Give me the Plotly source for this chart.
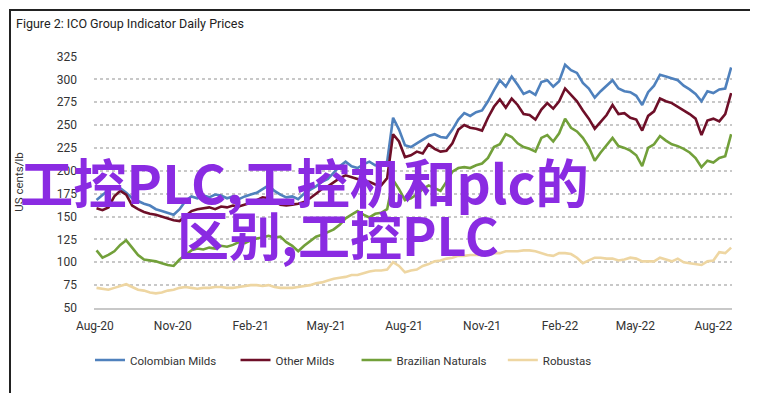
import pandas as pd
import plotly.graph_objects as go

# Weekly dates (Mondays) from Aug 2020 to Aug 2022
dates = pd.date_range("2020-08-03", "2022-08-22", freq="7D")

colombian = [168, 174, 179, 182, 181, 176, 170, 167, 164, 162, 158, 156, 154, 152, 158, 167, 172, 170, 173, 171,
             174, 173, 170, 172, 169, 172, 174, 176, 180, 184, 178, 174, 171, 172, 169, 175, 179, 183, 188, 191,
             198, 205, 210, 205, 203, 207, 210, 206, 208, 210, 258, 245, 228, 226, 230, 234, 238, 240, 237, 236,
             245, 256, 263, 260, 264, 266, 276, 288, 299, 292, 303, 294, 284, 287, 283, 297, 299, 292, 298, 316,
             310, 307, 296, 290, 280, 287, 293, 299, 290, 287, 286, 282, 272, 286, 293, 305, 303, 301, 299, 293,
             289, 284, 276, 287, 285, 289, 290, 313]
other_milds = [159, 157, 160, 172, 178, 174, 162, 158, 155, 153, 152, 150, 148, 146, 145, 150, 156, 158, 159, 160,
               158, 161, 160, 162, 161, 163, 165, 168, 171, 170, 167, 163, 162, 163, 164, 166, 170, 175, 180, 183,
               188, 192, 195, 193, 191, 189, 188, 185, 184, 192, 240, 232, 215, 217, 221, 219, 229, 224, 221, 222,
               230, 245, 250, 247, 246, 244, 258, 270, 278, 269, 279, 272, 262, 261, 256, 267, 274, 268, 276, 290,
               283, 276, 266, 257, 246, 254, 261, 272, 262, 263, 258, 256, 244, 260, 265, 279, 276, 274, 270, 266,
               262, 257, 239, 255, 257, 254, 262, 285]
brazilian = [113, 105, 108, 112, 119, 124, 116, 108, 103, 102, 101, 99, 97, 96, 103, 108, 113, 115, 114, 116,
             115, 118, 117, 119, 122, 121, 124, 126, 127, 129, 127, 128, 122, 118, 112, 118, 123, 128, 130, 133,
             136, 141, 148, 152, 156, 152, 149, 153, 154, 158, 190, 180, 168, 170, 174, 180, 184, 181, 178, 188,
             199, 203, 204, 203, 206, 208, 214, 226, 229, 240, 237, 230, 226, 224, 221, 236, 239, 232, 241, 257,
             247, 243, 236, 226, 211, 220, 228, 236, 227, 225, 222, 217, 205, 225, 229, 238, 233, 229, 227, 224,
             220, 214, 204, 211, 209, 214, 216, 240]
robustas = [72, 71, 70, 72, 74, 76, 73, 70, 69, 67, 66, 67, 69, 70, 72, 73, 72, 71, 72, 72,
            73, 73, 72, 72, 73, 74, 75, 75, 74, 75, 73, 72, 72, 72, 73, 74, 75, 77, 78, 80,
            82, 83, 84, 86, 86, 88, 90, 91, 91, 92, 100, 96, 89, 91, 92, 96, 98, 101, 102, 104,
            105, 107, 107, 108, 108, 108, 109, 110, 110, 112, 112, 112, 113, 113, 112, 110, 108, 107, 110, 110,
            109, 105, 99, 102, 105, 105, 104, 104, 102, 103, 105, 104, 101, 101, 101, 105, 103, 101, 104, 100,
            99, 98, 97, 101, 102, 111, 110, 116]

series_names = ["Colombian Milds", "Other Milds", "Brazilian Naturals", "Robustas"]
series_values = [colombian, other_milds, brazilian, robustas]
series_colors = ["#4F81BD", "#6E0F28", "#72A03A", "#EED6A2"]
legend_pad = [5, 6, 4, 0]  # trailing non-breaking spaces to widen legend entries

tick_dates = ["2020-08-01", "2020-11-01", "2021-02-01", "2021-05-01", "2021-08-01",
              "2021-11-01", "2022-02-01", "2022-05-01", "2022-08-01"]
tick_labels = ["Aug-20", "Nov-20", "Feb-21", "May-21", "Aug-21", "Nov-21", "Feb-22", "May-22", "Aug-22"]
y_ticks = [50, 75, 100, 125, 150, 175, 200, 225, 250, 275, 300, 325]

W, H = 758, 393
L, R, T, B = 86, 34, 48, 93
PW, PH = W - L - R, H - T - B


def px_x(p):
    return (p - L) / PW


def px_y(p):
    return (H - B - p) / PH


fig = go.Figure()
for name, vals, col, pad in zip(series_names, series_values, series_colors, legend_pad):
    fig.add_trace(go.Scatter(x=dates, y=vals, name=name + "\u00a0" * pad, mode="lines",
                             line=dict(color=col, width=2.6)))

fig.update_layout(
    width=W, height=H,
    margin=dict(l=L, r=R, t=T, b=B, autoexpand=False),
    paper_bgcolor="white", plot_bgcolor="white",
    font=dict(family="Roboto, sans-serif", size=12, color="#333333"),
    title=dict(text="Figure 2: ICO Group Indicator Daily Prices", xref="container", yref="container",
               x=8 / W, y=1 - 16 / H, xanchor="left", yanchor="middle",
               font=dict(family="Roboto, sans-serif", size=12.5, color="#222222")),
    showlegend=True,
    legend=dict(orientation="h", x=px_x(82), y=px_y(352), xanchor="left", yanchor="middle",
                font=dict(family="Roboto, sans-serif", size=11.5, color="#333333"),
                bgcolor="rgba(0,0,0,0)"),
    xaxis=dict(range=["2020-07-31", "2022-08-23"], tickvals=tick_dates, ticktext=tick_labels,
               showgrid=False, showline=True, linecolor="#C8C8C8", linewidth=2,
               ticks="", ticklabelstandoff=6, tickfont=dict(size=12, color="#333333"), zeroline=False),
    yaxis=dict(range=[50, 325.5], tickvals=y_ticks, showgrid=True, gridcolor="#C8C8C8",
               griddash="dot", gridwidth=1.5, ticks="", ticklabelstandoff=16,
               tickfont=dict(size=12, color="#333333"), zeroline=False, showline=False,
               title=dict(text="US cents/lb", standoff=30, font=dict(size=11.5, color="#333333"))),
)

# outer frame
fig.add_shape(type="rect", xref="paper", yref="paper",
              x0=px_x(2), x1=px_x(755), y0=px_y(389), y1=px_y(2),
              line=dict(color="#222222", width=2), fillcolor="rgba(0,0,0,0)", layer="above")

# purple overlay text
purple = "#8A2BE2"
fig.add_annotation(text="工控PLC,工控机和plc的", xref="paper", yref="paper",
                   x=px_x(10), y=px_y(172), xanchor="left", yanchor="middle", showarrow=False,
                   font=dict(family="Noto Sans CJK SC", size=53.3, color=purple, weight="bold"))
fig.add_annotation(text="区别,工控PLC", xref="paper", yref="paper",
                   x=px_x(167), y=px_y(225), xanchor="left", yanchor="middle", showarrow=False,
                   font=dict(family="Noto Sans CJK SC", size=52, color=purple, weight="bold"))

fig.write_html("out.html")
